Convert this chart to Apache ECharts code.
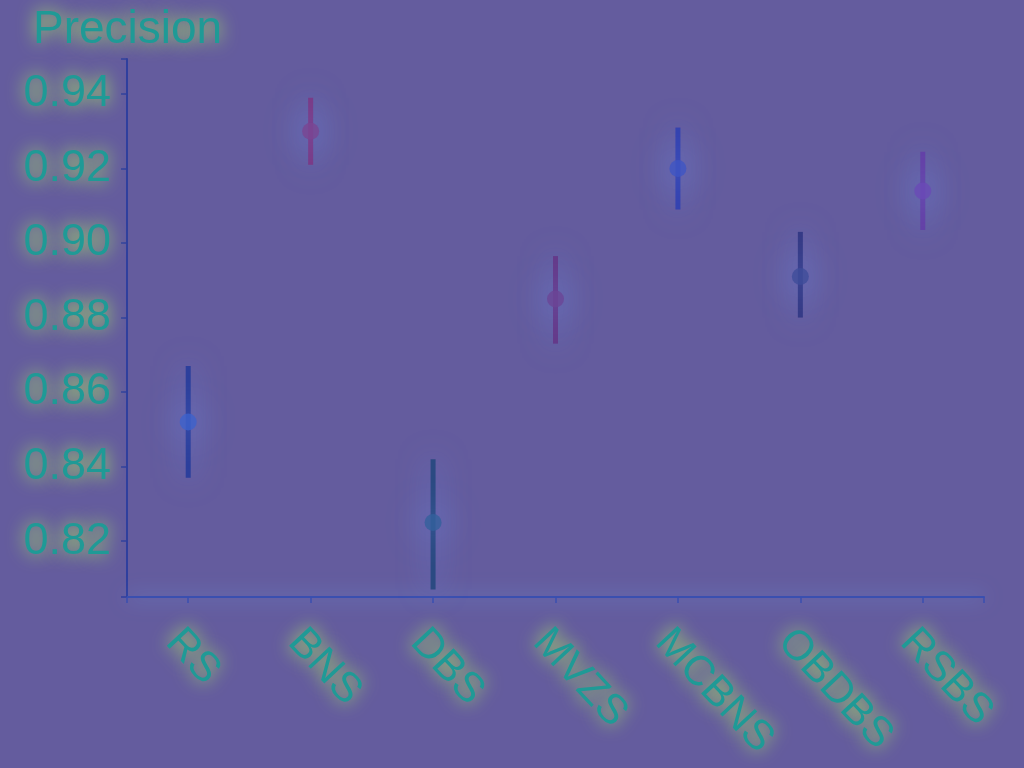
<!DOCTYPE html>
<html>
<head>
<meta charset="utf-8">
<title>Precision</title>
<script src="https://cdn.jsdelivr.net/npm/echarts@6/dist/echarts.min.js"></script>
<style>
  html, body { margin: 0; padding: 0; background: #645c9e; }
  #chart { width: 1024px; height: 768px; }
</style>
</head>
<body>
<div id="chart"></div>
<script>
// 数据
const methods = ['RS', 'BNS', 'DBS', 'MVZS', 'MCBNS', 'OBDBS', 'RSBS']
const precision = [0.852, 0.930, 0.825, 0.885, 0.920, 0.891, 0.914]
const errLow = [0.837, 0.921, 0.807, 0.873, 0.909, 0.880, 0.9035]
const errHigh = [0.867, 0.939, 0.842, 0.8965, 0.931, 0.903, 0.9245]
const yTicks = [0.82, 0.84, 0.86, 0.88, 0.90, 0.92, 0.94]

// 每个方法的颜色
const pointColors = ['#3d62cc', '#7b4592', '#33609c', '#6c4596', '#3f55c4', '#3f4c9a', '#6a4ab6']
const barColors = ['#2c3f9c', '#7a3a86', '#2b4a82', '#653a8a', '#3442b0', '#353a86', '#6440a6']

const textColor = '#1f9a96'
// 文字发光效果
const glow = {
  textShadowColor: 'rgba(185,255,90,1)',
  textShadowBlur: 18
}
const font = 'Liberation Sans, Arial, sans-serif'

const yMin = 0.805
const yMax = 0.9494
const xMin = -0.5
const xMax = methods.length - 0.5

const pts = precision.map((v, i) => [i, v])
const bars = methods.map((m, i) => [i, errLow[i], errHigh[i]])

const myChart = echarts.init(document.getElementById('chart'))
const option = {
  backgroundColor: '#645c9e',
  animation: false,
  title: {
    text: 'Precision',
    left: 28,
    top: 2,
    textStyle: Object.assign({
      fontSize: 46,
      fontWeight: 'normal',
      fontFamily: font,
      color: textColor
    }, glow)
  },
  grid: { left: 127, right: 40, top: 59, bottom: 171, containLabel: false },
  xAxis: {
    type: 'value',
    min: xMin,
    max: xMax,
    splitLine: { show: false },
    axisLine: {
      onZero: false,
      lineStyle: { color: '#3a4fb0', width: 2, shadowColor: 'rgba(110,170,255,1)', shadowBlur: 20 }
    },
    axisTick: {
      length: 6,
      lineStyle: { color: '#3a4fb0', width: 1.5 },
      customValues: [xMin].concat(methods.map((m, i) => i), [xMax])
    },
    axisLabel: {
      customValues: methods.map((m, i) => i),
      formatter: v => methods[Math.round(v)],
      rotate: -47,
      margin: 24,
      verticalAlign: 'top',
      fontSize: 42,
      fontFamily: font,
      color: textColor,
      ...glow
    }
  },
  yAxis: {
    type: 'value',
    min: yMin,
    max: yMax,
    splitLine: { show: false },
    axisLine: {
      show: true,
      onZero: false,
      lineStyle: { color: '#2f3f9e', width: 2 }
    },
    axisTick: {
      show: true,
      length: 6,
      lineStyle: { color: '#2f3f9e', width: 1.5 },
      customValues: [yMin].concat(yTicks, [yMax])
    },
    axisLabel: {
      customValues: yTicks,
      formatter: v => v.toFixed(2),
      margin: 16,
      fontSize: 45,
      fontFamily: font,
      color: textColor,
      ...glow
    }
  },
  series: [
    {
      // 误差线
      type: 'custom',
      data: bars,
      z: 2,
      renderItem: function (params, api) {
        const i = api.value(0)
        const p1 = api.coord([i, api.value(1)])
        const p2 = api.coord([i, api.value(2)])
        return {
          type: 'line',
          shape: { x1: p1[0], y1: p1[1], x2: p2[0], y2: p2[1] },
          style: {
            stroke: barColors[i],
            lineWidth: 5,
            shadowColor: 'rgba(110,150,255,0.6)',
            shadowBlur: 30
          }
        }
      }
    },
    {
      type: 'scatter',
      data: pts,
      z: 3,
      symbolSize: 17,
      itemStyle: {
        color: p => pointColors[p.dataIndex],
        shadowColor: 'rgba(120,160,255,1)',
        shadowBlur: 36
      }
    }
  ]
}
option && myChart.setOption(option)
</script>
</body>
</html>
